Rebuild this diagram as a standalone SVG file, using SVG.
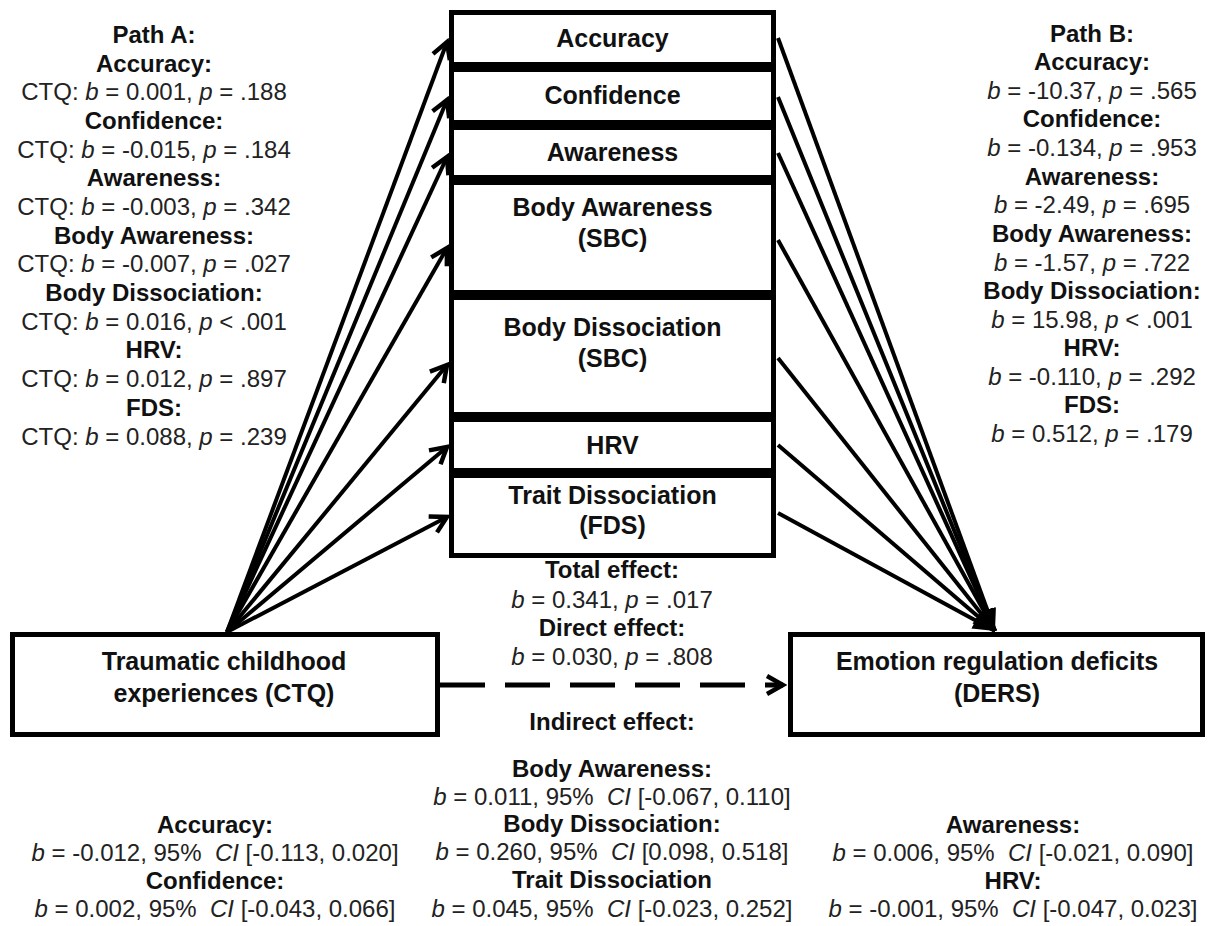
<svg xmlns="http://www.w3.org/2000/svg" width="1211" height="926" viewBox="0 0 1211 926">
<defs>
<style>
text{font-family:"Liberation Sans",Arial,sans-serif;fill:#222;text-anchor:middle;white-space:pre}
.r{font-size:24px}
.bl{font-size:24px;font-weight:bold;fill:#111}
.nl{font-size:25px;font-weight:bold;fill:#111}
.i{font-style:italic}
.box{fill:#fff;stroke:#000;stroke-width:5}
.ln{stroke:#000;stroke-width:4;fill:none}
</style>
<marker id="open" markerUnits="userSpaceOnUse" viewBox="0 0 24 24" markerWidth="24" markerHeight="24" refX="20" refY="12" orient="auto">
<path d="M4,3 L20,12 L4,21" fill="none" stroke="#000" stroke-width="4.5"/>
</marker>
<marker id="fill" markerUnits="userSpaceOnUse" viewBox="0 0 24 20" markerWidth="24" markerHeight="20" refX="22" refY="10" orient="auto">
<path d="M0,1 L22,10 L0,19 Z" fill="#000"/>
</marker>
</defs>
<rect width="1211" height="926" fill="#fff"/>

<g id="connectors">
<line class="ln" x1="227" y1="632" x2="447" y2="42" marker-end="url(#open)"/>
<line class="ln" x1="227" y1="632" x2="447" y2="100" marker-end="url(#open)"/>
<line class="ln" x1="227" y1="632" x2="447" y2="157" marker-end="url(#open)"/>
<line class="ln" x1="227" y1="632" x2="447" y2="248" marker-end="url(#open)"/>
<line class="ln" x1="227" y1="632" x2="447" y2="365" marker-end="url(#open)"/>
<line class="ln" x1="227" y1="632" x2="447" y2="447" marker-end="url(#open)"/>
<line class="ln" x1="227" y1="632" x2="447" y2="517" marker-end="url(#open)"/>
<line class="ln" x1="778" y1="38" x2="995" y2="631" marker-end="url(#fill)"/>
<line class="ln" x1="778" y1="97" x2="995" y2="631" marker-end="url(#fill)"/>
<line class="ln" x1="778" y1="153" x2="995" y2="631" marker-end="url(#fill)"/>
<line class="ln" x1="778" y1="240" x2="995" y2="631" marker-end="url(#fill)"/>
<line class="ln" x1="778" y1="358" x2="995" y2="631" marker-end="url(#fill)"/>
<line class="ln" x1="778" y1="445" x2="995" y2="631" marker-end="url(#fill)"/>
<line class="ln" x1="778" y1="513" x2="995" y2="631" marker-end="url(#fill)"/>
<line x1="440" y1="685" x2="783" y2="685" stroke="#000" stroke-width="5" stroke-dasharray="45 20" marker-end="url(#open)"/>
</g>

<g id="node-accuracy"><rect class="box" x="451.5" y="12.5" width="322" height="52"/><text class="nl" x="612.5" y="47">Accuracy</text></g>
<g id="node-confidence"><rect class="box" x="451.5" y="69.5" width="322" height="53"/><text class="nl" x="612.5" y="104">Confidence</text></g>
<g id="node-awareness"><rect class="box" x="451.5" y="127.5" width="322" height="50"/><text class="nl" x="612.5" y="161">Awareness</text></g>
<g id="node-body-awareness"><rect class="box" x="451.5" y="182.5" width="322" height="110"/><text class="nl" x="612.5" y="216">Body Awareness</text><text class="nl" x="612.5" y="247">(SBC)</text></g>
<g id="node-body-dissociation"><rect class="box" x="451.5" y="297.5" width="322" height="117"/><text class="nl" x="612.5" y="336">Body Dissociation</text><text class="nl" x="612.5" y="367">(SBC)</text></g>
<g id="node-hrv"><rect class="box" x="451.5" y="419.5" width="322" height="51"/><text class="nl" x="612.5" y="454">HRV</text></g>
<g id="node-trait-dissociation"><rect class="box" x="451.5" y="475.5" width="322" height="80"/><text class="nl" x="612.5" y="504">Trait Dissociation</text><text class="nl" x="612.5" y="534">(FDS)</text></g>

<g id="node-ctq"><rect class="box" x="12.5" y="634.5" width="425" height="100"/><text class="nl" x="224" y="670">Traumatic childhood</text><text class="nl" x="224" y="702">experiences (CTQ)</text></g>
<g id="node-ders"><rect class="box" x="790.5" y="634.5" width="412" height="100"/><text class="nl" x="997" y="670">Emotion regulation deficits</text><text class="nl" x="997" y="702">(DERS)</text></g>

<g id="path-a">
<text class="bl" x="154" y="43">Path A:</text>
<text class="bl" x="154" y="72">Accuracy:</text>
<text class="r" x="154" y="100">CTQ: <tspan class="i">b</tspan> = 0.001, <tspan class="i">p</tspan> = .188</text>
<text class="bl" x="154" y="129">Confidence:</text>
<text class="r" x="154" y="158">CTQ: <tspan class="i">b</tspan> = -0.015, <tspan class="i">p</tspan> = .184</text>
<text class="bl" x="154" y="186">Awareness:</text>
<text class="r" x="154" y="215">CTQ: <tspan class="i">b</tspan> = -0.003, <tspan class="i">p</tspan> = .342</text>
<text class="bl" x="154" y="244">Body Awareness:</text>
<text class="r" x="154" y="272">CTQ: <tspan class="i">b</tspan> = -0.007, <tspan class="i">p</tspan> = .027</text>
<text class="bl" x="154" y="301">Body Dissociation:</text>
<text class="r" x="154" y="330">CTQ: <tspan class="i">b</tspan> = 0.016, <tspan class="i">p</tspan> &lt; .001</text>
<text class="bl" x="154" y="358">HRV:</text>
<text class="r" x="154" y="387">CTQ: <tspan class="i">b</tspan> = 0.012, <tspan class="i">p</tspan> = .897</text>
<text class="bl" x="154" y="416">FDS:</text>
<text class="r" x="154" y="445">CTQ: <tspan class="i">b</tspan> = 0.088, <tspan class="i">p</tspan> = .239</text>
</g>

<g id="path-b">
<text class="bl" x="1092" y="42">Path B:</text>
<text class="bl" x="1092" y="70">Accuracy:</text>
<text class="r" x="1092" y="99"><tspan class="i">b</tspan> = -10.37, <tspan class="i">p</tspan> = .565</text>
<text class="bl" x="1092" y="127">Confidence:</text>
<text class="r" x="1092" y="156"><tspan class="i">b</tspan> = -0.134, <tspan class="i">p</tspan> = .953</text>
<text class="bl" x="1092" y="185">Awareness:</text>
<text class="r" x="1092" y="213"><tspan class="i">b</tspan> = -2.49, <tspan class="i">p</tspan> = .695</text>
<text class="bl" x="1092" y="242">Body Awareness:</text>
<text class="r" x="1092" y="271"><tspan class="i">b</tspan> = -1.57, <tspan class="i">p</tspan> = .722</text>
<text class="bl" x="1092" y="299">Body Dissociation:</text>
<text class="r" x="1092" y="328"><tspan class="i">b</tspan> = 15.98, <tspan class="i">p</tspan> &lt; .001</text>
<text class="bl" x="1092" y="356">HRV:</text>
<text class="r" x="1092" y="385"><tspan class="i">b</tspan> = -0.110, <tspan class="i">p</tspan> = .292</text>
<text class="bl" x="1092" y="413">FDS:</text>
<text class="r" x="1092" y="442"><tspan class="i">b</tspan> = 0.512, <tspan class="i">p</tspan> = .179</text>
</g>

<g id="effects">
<text class="bl" x="612" y="578">Total effect:</text>
<text class="r" x="612" y="608"><tspan class="i">b</tspan> = 0.341, <tspan class="i">p</tspan> = .017</text>
<text class="bl" x="612" y="636">Direct effect:</text>
<text class="r" x="612" y="665"><tspan class="i">b</tspan> = 0.030, <tspan class="i">p</tspan> = .808</text>
<text class="bl" x="612" y="730">Indirect effect:</text>
</g>

<g id="indirect">
<text class="bl" x="612" y="777">Body Awareness:</text>
<text class="r" x="612" y="805"><tspan class="i">b</tspan> = 0.011, 95%  <tspan class="i">CI</tspan> [-0.067, 0.110]</text>
<text class="bl" x="612" y="832">Body Dissociation:</text>
<text class="r" x="612" y="860"><tspan class="i">b</tspan> = 0.260, 95%  <tspan class="i">CI</tspan> [0.098, 0.518]</text>
<text class="bl" x="612" y="888">Trait Dissociation</text>
<text class="r" x="612" y="917"><tspan class="i">b</tspan> = 0.045, 95%  <tspan class="i">CI</tspan> [-0.023, 0.252]</text>
<text class="bl" x="215" y="833">Accuracy:</text>
<text class="r" x="215" y="861"><tspan class="i">b</tspan> = -0.012, 95%  <tspan class="i">CI</tspan> [-0.113, 0.020]</text>
<text class="bl" x="215" y="889">Confidence:</text>
<text class="r" x="215" y="917"><tspan class="i">b</tspan> = 0.002, 95%  <tspan class="i">CI</tspan> [-0.043, 0.066]</text>
<text class="bl" x="1013" y="833">Awareness:</text>
<text class="r" x="1013" y="861"><tspan class="i">b</tspan> = 0.006, 95%  <tspan class="i">CI</tspan> [-0.021, 0.090]</text>
<text class="bl" x="1013" y="889">HRV:</text>
<text class="r" x="1013" y="917"><tspan class="i">b</tspan> = -0.001, 95%  <tspan class="i">CI</tspan> [-0.047, 0.023]</text>
</g>
</svg>
